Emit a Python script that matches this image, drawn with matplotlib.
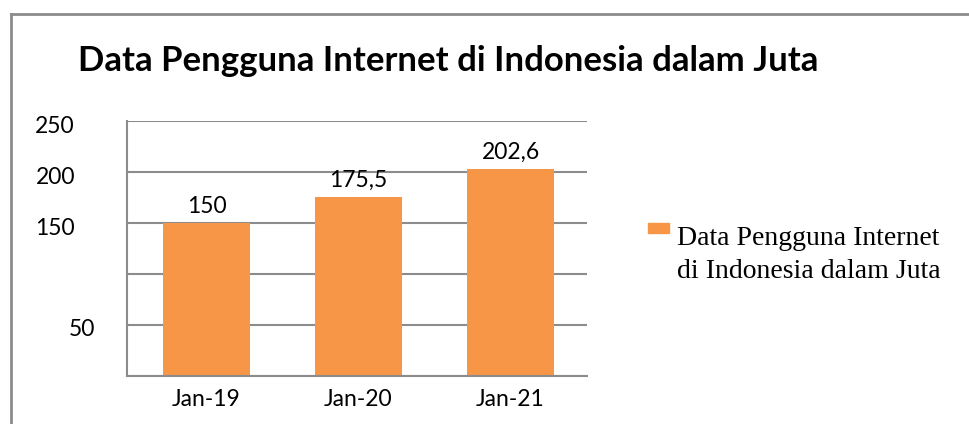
import matplotlib.pyplot as plt
from matplotlib.lines import Line2D
import matplotlib.transforms as mtransforms

categories = ["Jan-19", "Jan-20", "Jan-21"]
values = [150, 175.5, 202.6]
value_labels = ["150", "175,5", "202,6"]
ytick_values = [250, 200, 150, 50]
ytick_labels = ["250", "200", "150", "50"]
series_name = "Data Pengguna Internet\ndi Indonesia dalam Juta"
title = "Data Pengguna Internet di Indonesia dalam Juta"

BAR_COLOR = "#F79646"
GRID_COLOR = "#8C8C8C"

W, H = 970, 424
fig = plt.figure(figsize=(W / 100, H / 100), dpi=100)

# outer frame: only top and left edges visible
fig.add_artist(Line2D([11 / W, 1], [1 - 14 / H, 1 - 14 / H], color="#8C8C8C", lw=2))
fig.add_artist(Line2D([11 / W, 11 / W], [0, 1 - 14 / H], color="#8C8C8C", lw=2))

fig.text(78 / W, 1 - 61 / H, title, fontsize=25, fontweight="bold",
         family="Lato", va="center", ha="left")

ax = fig.add_axes([127 / W, 1 - 376 / H, 460 / W, 255 / H])
x = range(len(categories))
bars = ax.bar(x, values, width=0.57, color=BAR_COLOR, zorder=2)

ax.set_xlim(-0.523, 2.503)
ax.set_ylim(0, 250)
ax.set_yticks(range(0, 251, 50))
ax.yaxis.grid(True, color=GRID_COLOR, lw=1.5, zorder=0)
ax.tick_params(axis="y", length=0, labelleft=False)
ax.tick_params(axis="x", length=0, pad=9, labelsize=16.5)
ax.set_xticks(list(x))
ax.set_xticklabels(categories, family="Lato")
for sp in ["top", "right"]:
    ax.spines[sp].set_visible(False)
for sp in ["left", "bottom"]:
    ax.spines[sp].set_color(GRID_COLOR)
    ax.spines[sp].set_linewidth(1.5)

# y labels placed as in the reference (slightly below their gridlines)
trans = mtransforms.blended_transform_factory(fig.transFigure, ax.transData)
off = mtransforms.ScaledTranslation(0, -5 / 100, fig.dpi_scale_trans)
right_edges = {"250": 75, "200": 75, "150": 75, "50": 95}
for v, lab in zip(ytick_values, ytick_labels):
    ax.text(right_edges[lab] / W, v, lab, transform=trans + off, ha="right",
            va="center", fontsize=16.5, family="Lato", clip_on=False)

for rect, lab in zip(bars, value_labels):
    ax.text(rect.get_x() + rect.get_width() / 2, rect.get_height() + 6, lab,
            ha="center", va="bottom", fontsize=16.5, family="Lato")

# legend
fig.patches.append(plt.Rectangle((648 / W, 1 - 233 / H), 21 / W, 10 / H,
                                 color=BAR_COLOR, transform=fig.transFigure))
fig.text(677 / W, 1 - 255 / H, series_name, fontsize=20, family="Liberation Serif",
         va="center", ha="left", linespacing=1.45)

fig.savefig("out.png", dpi=100)
